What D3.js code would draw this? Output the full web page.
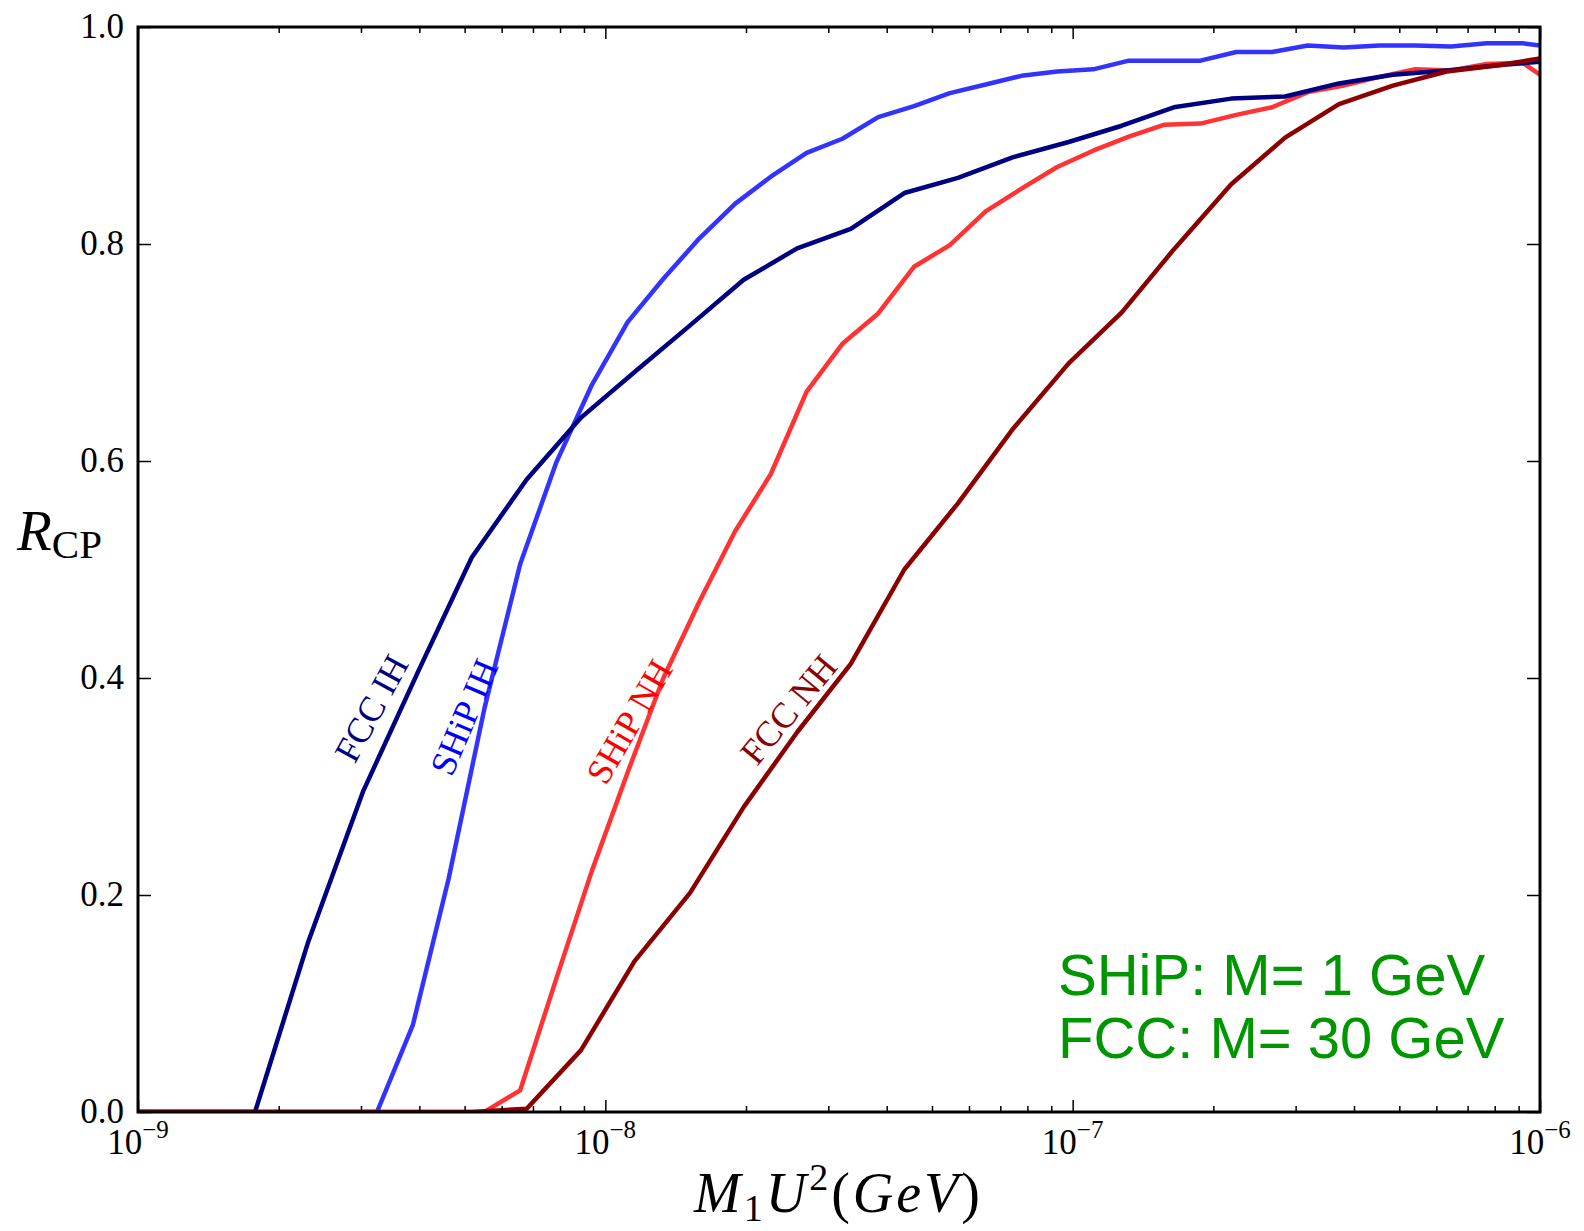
<!DOCTYPE html>
<html lang="en">
<head>
<meta charset="utf-8">
<script src="https://d3js.org/d3.v7.min.js"></script>
<style>
  body { margin: 0; background: #fff; }
</style>
</head>
<body>
<script>
var width = 1584, height = 1231;
var plotLeft = 138, plotRight = 1540, plotTop = 27, plotBottom = 1112;

// x grids (M1 U^2 in GeV)
var fccX = [1e-9, 1.780e-9, 2.314e-9, 3.035e-9, 3.987e-9, 5.177e-9, 6.787e-9, 8.872e-9,
            1.155e-8, 1.518e-8, 1.977e-8, 2.573e-8, 3.351e-8, 4.363e-8, 5.682e-8, 7.463e-8, 9.804e-8,
            1.274e-7, 1.646e-7, 2.184e-7, 2.848e-7, 3.714e-7, 4.844e-7, 6.314e-7, 8.234e-7, 1e-6];
var shipX = [1e-9, 3.246e-9, 3.873e-9, 4.620e-9, 5.512e-9, 6.574e-9, 7.842e-9, 9.354e-9,
             1.116e-8, 1.331e-8, 1.588e-8, 1.894e-8, 2.260e-8, 2.696e-8, 3.216e-8, 3.836e-8,
             4.576e-8, 5.459e-8, 6.514e-8, 7.770e-8, 9.268e-8, 1.106e-7, 1.319e-7, 1.573e-7,
             1.877e-7, 2.239e-7, 2.671e-7, 3.186e-7, 3.801e-7, 4.534e-7, 5.409e-7, 6.453e-7,
             7.697e-7, 9.182e-7, 1e-6];

// R_CP values
var fccIH = [0, 0, 0.157, 0.296, 0.407, 0.511, 0.583, 0.640, 0.682, 0.725, 0.767, 0.796, 0.814,
             0.847, 0.861, 0.880, 0.894, 0.909, 0.926, 0.934, 0.936, 0.948, 0.956, 0.960, 0.965, 0.968];
var fccNH = [0, 0, 0, 0, 0, 0, 0.003, 0.057, 0.139, 0.202, 0.281, 0.350, 0.413,
             0.500, 0.561, 0.630, 0.690, 0.737, 0.795, 0.855, 0.898, 0.929, 0.946, 0.959, 0.965, 0.971];
var shipIH = [0, 0, 0.080, 0.215, 0.372, 0.505, 0.598, 0.670, 0.728, 0.768, 0.805, 0.837,
              0.862, 0.884, 0.897, 0.917, 0.927, 0.939, 0.947, 0.955, 0.959, 0.961,
              0.969, 0.969, 0.969, 0.977, 0.977, 0.983, 0.981, 0.983, 0.983, 0.982, 0.985, 0.985, 0.983];
var shipNH = [0, 0, 0, 0, 0, 0.020, 0.122, 0.222, 0.313, 0.400, 0.470, 0.535, 0.588, 0.664, 0.708,
              0.736, 0.779, 0.799, 0.830, 0.851, 0.871, 0.886, 0.899, 0.910, 0.911,
              0.919, 0.926, 0.940, 0.946, 0.954, 0.961, 0.960, 0.966, 0.967, 0.956];

var yTicks = [0.0, 0.2, 0.4, 0.6, 0.8, 1.0];
var xTicks = [1e-9, 1e-8, 1e-7, 1e-6];
var xTickExp = ["\u22129", "\u22128", "\u22127", "\u22126"];

// curves: drawn in this order
var series = [
  {name: "SHiP IH", xs: shipX, ys: shipIH, color: "#0000ff", opacity: 0.8},
  {name: "SHiP NH", xs: shipX, ys: shipNH, color: "#ff0000", opacity: 0.8},
  {name: "FCC IH",  xs: fccX,  ys: fccIH,  color: "#000080", opacity: 1},
  {name: "FCC NH",  xs: fccX,  ys: fccNH,  color: "#8b0000", opacity: 1}
];

// in-plot labels along the curves (baseline start, in data units)
var labels = [
  {text: "FCC IH",   x: 2.91e-9,  y: 0.320, angle: -61.5, color: "#000080"},
  {text: "SHiP IH",  x: 4.69e-9,  y: 0.308, angle: -67,   color: "#0000ff"},
  {text: "SHiP NH",  x: 1.003e-8, y: 0.300, angle: -60,   color: "#ff0000"},
  {text: "FCC NH",   x: 2.11e-8,  y: 0.318, angle: -50.5, color: "#8b0000"}
];

var svg = d3.select("body").append("svg")
    .attr("width", width)
    .attr("height", height)
    .style("font-family", "'Liberation Serif', 'DejaVu Serif', serif");

var x = d3.scaleLog().domain([1e-9, 1e-6]).range([plotLeft, plotRight]);
var y = d3.scaleLinear().domain([0, 1]).range([plotBottom, plotTop]);

svg.append("clipPath").attr("id", "plotclip")
  .append("rect")
    .attr("x", plotLeft).attr("y", plotTop)
    .attr("width", plotRight - plotLeft).attr("height", plotBottom - plotTop);

var line = d3.line()
    .x(function(d) { return x(d[0]); })
    .y(function(d) { return y(d[1]); });

var plot = svg.append("g").attr("clip-path", "url(#plotclip)");
series.forEach(function(s) {
  plot.append("path")
    .datum(s.xs.map(function(v, i) { return [v, s.ys[i]]; }))
    .attr("d", line)
    .attr("fill", "none")
    .attr("stroke", s.color)
    .attr("stroke-opacity", s.opacity)
    .attr("stroke-width", 4.5)
    .attr("stroke-linejoin", "round");
});

// ticks (inward, all four sides)
function tickStyle(g) {
  g.select(".domain").remove();
  g.selectAll("line").attr("stroke-width", 1.5);
}
var minor = x.ticks().filter(function(t) { return xTicks.indexOf(t) < 0; });
svg.append("g").attr("transform", "translate(0," + plotBottom + ")")
  .call(d3.axisBottom(x).tickValues(minor).tickSize(-6).tickFormat("")).call(tickStyle);
svg.append("g").attr("transform", "translate(0," + plotTop + ")")
  .call(d3.axisTop(x).tickValues(minor).tickSize(-6).tickFormat("")).call(tickStyle);
svg.append("g").attr("transform", "translate(0," + plotBottom + ")")
  .call(d3.axisBottom(x).tickValues(xTicks).tickSize(-12).tickFormat("")).call(tickStyle);
svg.append("g").attr("transform", "translate(0," + plotTop + ")")
  .call(d3.axisTop(x).tickValues(xTicks).tickSize(-12).tickFormat("")).call(tickStyle);
svg.append("g").attr("transform", "translate(" + plotLeft + ",0)")
  .call(d3.axisLeft(y).tickValues(yTicks).tickSize(-13).tickFormat("")).call(tickStyle);
svg.append("g").attr("transform", "translate(" + plotRight + ",0)")
  .call(d3.axisRight(y).tickValues(yTicks).tickSize(-13).tickFormat("")).call(tickStyle);

// frame
svg.append("rect")
    .attr("x", plotLeft).attr("y", plotTop)
    .attr("width", plotRight - plotLeft).attr("height", plotBottom - plotTop)
    .attr("fill", "none").attr("stroke", "#000").attr("stroke-width", 3);

// y tick labels
svg.selectAll(".ylab").data(yTicks).enter().append("text")
    .attr("x", plotLeft - 14)
    .attr("y", function(d) { return y(d) + 11; })
    .attr("text-anchor", "end")
    .attr("font-size", 35)
    .text(function(d) { return d.toFixed(1); });

// x tick labels 10^n
xTicks.forEach(function(t, i) {
  var tx = svg.append("text")
      .attr("x", x(t))
      .attr("y", plotBottom + 42)
      .attr("text-anchor", "middle")
      .attr("font-size", 35)
      .text("10");
  tx.append("tspan").attr("dy", -16).attr("font-size", 25).text(xTickExp[i]);
});

// axis titles
var yt = svg.append("text").attr("x", 17).attr("y", 550).attr("font-size", 57);
yt.append("tspan").attr("font-style", "italic").text("R");
yt.append("tspan").attr("font-size", 41).attr("dy", 8).text("CP");

var xt = svg.append("text").attr("x", 694).attr("y", 1212).attr("font-size", 56)
    .attr("textLength", 286).attr("lengthAdjust", "spacing");
xt.append("tspan").attr("font-style", "italic").text("M");
xt.append("tspan").attr("font-size", 38).attr("dy", 9).text("1");
xt.append("tspan").attr("font-style", "italic").attr("dy", -9).text("U");
xt.append("tspan").attr("font-size", 38).attr("dy", -22).text("2");
xt.append("tspan").attr("dy", 22).text("(");
xt.append("tspan").attr("font-style", "italic").text("GeV");
xt.append("tspan").text(")");

// curve labels
labels.forEach(function(l) {
  svg.append("text")
      .attr("transform", "translate(" + x(l.x) + "," + y(l.y) + ") rotate(" + l.angle + ")")
      .attr("font-size", 36)
      .attr("fill", l.color)
      .text(l.text);
});

// annotation
var note = svg.append("g")
    .style("font-family", "'Liberation Sans', Arial, sans-serif")
    .attr("font-size", 58)
    .attr("fill", "#009600");
note.append("text").attr("x", 1058).attr("y", 995).text("SHiP: M= 1 GeV");
note.append("text").attr("x", 1058).attr("y", 1058).text("FCC: M= 30 GeV");
</script>
</body>
</html>
